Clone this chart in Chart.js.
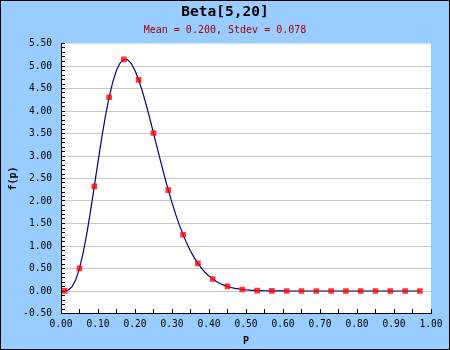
<!DOCTYPE html>
<html>
<head>
<meta charset="utf-8">
<script src="https://cdn.jsdelivr.net/npm/chart.js@4/dist/chart.umd.min.js"></script>
<style>
  html, body { margin: 0; padding: 0; background: #99CCFF; }
  #c { display: block; }
</style>
</head>
<body>
<canvas id="c" width="450" height="350"></canvas>
<script>
// ---- chart text ----
const chartTitle = 'Beta[5,20]';
const chartSubtitle = 'Mean = 0.200, Stdev = 0.078';
const xTitle = 'P';
const yTitle = 'f(p)';

// ---- tick labels (major ticks) ----
const xMajorTicks = [0.0, 0.1, 0.2, 0.3, 0.4, 0.5, 0.6, 0.7, 0.8, 0.9, 1.0];
const yMajorTicks = [-0.5, 0.0, 0.5, 1.0, 1.5, 2.0, 2.5, 3.0, 3.5, 4.0, 4.5, 5.0, 5.5];

// ---- marker series ----
const pointP = [0.01, 0.05, 0.09, 0.13, 0.17, 0.21, 0.25, 0.29, 0.33, 0.37, 0.41, 0.45, 0.49,
                0.53, 0.57, 0.61, 0.65, 0.69, 0.73, 0.77, 0.81, 0.85, 0.89, 0.93, 0.97];
const pointF = [0.0018, 0.5012, 2.3235, 4.3055, 5.1485, 4.6901, 3.5101, 2.2434, 1.2499, 0.6133, 0.2659, 0.1017, 0.0340,
                0.0099, 0.0024, 0.0005, 0, 0, 0, 0, 0, 0, 0, 0, 0];

// ---- density curve series ----
const curveP = [0.01,0.02,0.03,0.04,0.05,0.06,0.07,0.08,0.09,0.10,
                0.11,0.12,0.13,0.14,0.15,0.16,0.17,0.18,0.19,0.20,
                0.21,0.22,0.23,0.24,0.25,0.26,0.27,0.28,0.29,0.30,
                0.31,0.32,0.33,0.34,0.35,0.36,0.37,0.38,0.39,0.40,
                0.41,0.42,0.43,0.44,0.45,0.46,0.47,0.48,0.49,0.50,
                0.51,0.52,0.53,0.54,0.55,0.56,0.57,0.58,0.59,0.60,
                0.61,0.62,0.63,0.64,0.65,0.66,0.67,0.68,0.69,0.70,
                0.71,0.72,0.73,0.74,0.75,0.76,0.77,0.78,0.79,0.80,
                0.81,0.82,0.83,0.84,0.85,0.86,0.87,0.88,0.89,0.90,
                0.91,0.92,0.93,0.94,0.95,0.96,0.97];
const curveF = [0.0018,0.0232,0.0965,0.2505,0.5012,0.8500,1.2852,1.7853,2.3235,2.8708,
                3.3990,3.8841,4.3055,4.6491,4.9064,5.0720,5.1485,5.1399,5.0540,4.9008,
                4.6901,4.4348,4.1460,3.8344,3.5101,3.1820,2.8575,2.5430,2.2434,1.9622,
                1.7021,1.4644,1.2499,1.0584,0.8892,0.7413,0.6133,0.5035,0.4101,0.3315,
                0.2659,0.2116,0.1671,0.1309,0.1017,0.0783,0.0598,0.0453,0.0340,0.0253,
                0.0187,0.0137,0.0099,0.0071,0.0050,0.0035,0.0024,0.0017,0.0011,0.0008,
                0.0005,0.0003,0.0002,0.0001,0,0,0,0,0,0,
                0,0,0,0,0,0,0,0,0,0,
                0,0,0,0,0,0,0,0,0,0,
                0,0,0,0,0,0,0];

const FONT = "'DejaVu Sans Mono', monospace";
Chart.defaults.font.family = FONT;
Chart.defaults.color = '#000';

function near(a, b) { return Math.abs(a - b) < 1e-6; }
function isMajor(v, majors) { return majors.some(m => near(m, v)); }
// add minor ticks between major ticks
function withMinors(majors, n) {
  const out = [];
  for (let i = 0; i < majors.length; i++) {
    out.push({ value: majors[i] });
    if (i < majors.length - 1) {
      const a = majors[i], b = majors[i + 1];
      for (let k = 1; k < n; k++) out.push({ value: a + (b - a) * k / n });
    }
  }
  return out;
}

const bgPlugin = {
  id: 'bg',
  beforeDraw(chart) {
    const { ctx, chartArea: a } = chart;
    ctx.save();
    ctx.fillStyle = '#99CCFF';
    ctx.fillRect(0, 0, chart.width, chart.height);
    ctx.fillStyle = '#FFFFFF';
    ctx.fillRect(a.left, a.top, a.right - a.left, a.bottom - a.top);
    ctx.restore();
  },
  afterDraw(chart) {
    const { ctx, chartArea: a } = chart;
    const xs = chart.scales.x, ys = chart.scales.y;
    ctx.save();
    ctx.strokeStyle = '#000';
    ctx.lineWidth = 1;
    ctx.beginPath();
    // inward tick marks on the y axis (every tick of the scale)
    const axX = Math.round(a.left);
    ys.ticks.forEach(t => {
      const py = Math.round(ys.getPixelForValue(t.value) - 0.5) + 0.5;
      ctx.moveTo(axX, py);
      ctx.lineTo(axX + 4, py);
    });
    // inward tick marks on the x axis
    const axY = Math.round(a.bottom);
    xs.ticks.forEach(t => {
      const px = Math.round(xs.getPixelForValue(t.value) - 0.5) + 0.5;
      ctx.moveTo(px, axY);
      ctx.lineTo(px, axY - 5);
    });
    ctx.stroke();
    // outer frame
    ctx.strokeRect(0.5, 0.5, chart.width - 1, chart.height - 1);
    ctx.restore();
  }
};

new Chart(document.getElementById('c'), {
  type: 'scatter',
  data: {
    datasets: [
      {
        label: 'points',
        data: pointP.map((p, i) => ({ x: p, y: pointF[i] })),
        pointStyle: 'rect',
        pointRadius: 4,
        pointHoverRadius: 4,
        backgroundColor: 'rgba(255,0,0,0.78)',
        borderWidth: 0,
        showLine: false
      },
      {
        label: 'curve',
        data: curveP.map((p, i) => ({ x: p, y: curveF[i] })),
        showLine: true,
        borderColor: '#000080',
        borderWidth: 1.2,
        pointRadius: 0,
        tension: 0,
        fill: false
      }
    ]
  },
  options: {
    responsive: false,
    animation: false,
    devicePixelRatio: 1,
    layout: { padding: { left: 0, right: 0, top: 0, bottom: 0 } },
    plugins: {
      legend: { display: false },
      tooltip: { enabled: false },
      title: {
        display: true,
        text: chartTitle,
        color: '#000',
        font: { family: FONT, size: 14.5, weight: 'bold', lineHeight: 1.2 },
        padding: { top: 4, bottom: 1 }
      },
      subtitle: {
        display: true,
        text: chartSubtitle,
        color: '#A00000',
        font: { family: FONT, size: 10, weight: 'normal', lineHeight: 1.2 },
        padding: { top: 2.4, bottom: 6.7 }
      }
    },
    scales: {
      x: {
        type: 'linear',
        position: 'bottom',
        min: 0,
        max: 1,
        afterBuildTicks(s) { s.ticks = withMinors(xMajorTicks, 2); },
        afterFit(s) { s.height = 36.5; },
        ticks: {
          autoSkip: false,
          maxRotation: 0,
          padding: 5,
          color: '#000',
          font: { family: FONT, size: 9.6 },
          callback: (v) => isMajor(v, xMajorTicks) ? v.toFixed(2) : ''
        },
        grid: {
          display: false,
          drawOnChartArea: false,
          drawTicks: false
        },
        border: { display: true, color: '#000', width: 1 },
        title: {
          display: true,
          text: xTitle,
          color: '#000',
          font: { family: FONT, size: 10, weight: 'bold', lineHeight: 1.2 },
          padding: { top: 0, bottom: 3 }
        }
      },
      y: {
        type: 'linear',
        position: 'left',
        min: -0.5,
        max: 5.5,
        afterBuildTicks(s) { s.ticks = withMinors(yMajorTicks, 5); },
        afterFit(s) { s.width = 61; },
        ticks: {
          autoSkip: false,
          padding: 9,
          color: '#000',
          font: { family: FONT, size: 9.6 },
          callback: (v) => isMajor(v, yMajorTicks) ? v.toFixed(2) : ''
        },
        grid: {
          display: true,
          drawOnChartArea: true,
          drawTicks: false,
          lineWidth: 1,
          color: (c) => {
            const v = c.tick ? c.tick.value : NaN;
            return (isMajor(v, yMajorTicks) && v > -0.49 && v < 5.49) ? '#C8C8C8' : 'rgba(0,0,0,0)';
          }
        },
        border: { display: true, color: '#000', width: 1 },
        title: {
          display: true,
          text: yTitle,
          color: '#000',
          font: { family: FONT, size: 10, weight: 'bold', lineHeight: 1.2 },
          padding: { top: 7, bottom: 0 }
        }
      },
      yRight: {
        type: 'linear',
        position: 'right',
        display: true,
        afterFit(s) { s.width = 19; },
        ticks: { display: false },
        grid: { display: false, drawTicks: false },
        border: { display: false },
        title: { display: false }
      }
    }
  },
  plugins: [bgPlugin]
});
</script>
</body>
</html>
